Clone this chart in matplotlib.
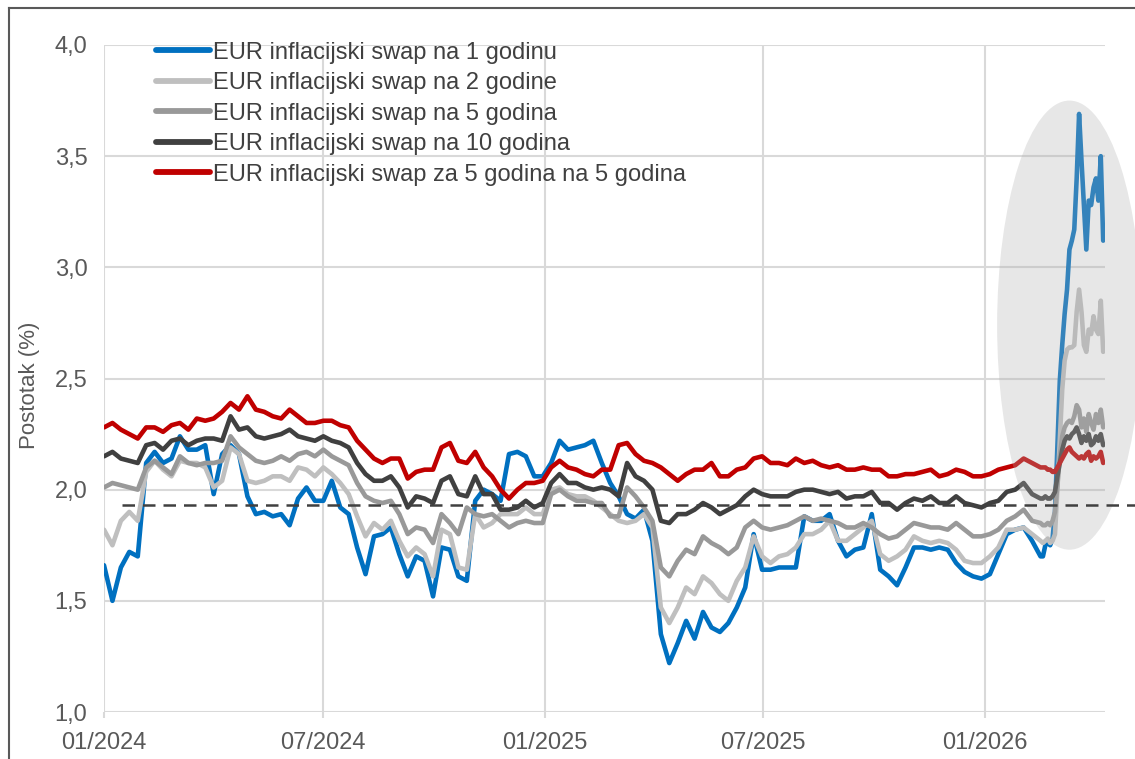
import pandas as pd
import matplotlib
matplotlib.use('Agg')
import matplotlib.pyplot as plt
import matplotlib.dates as mdates
from matplotlib.patches import Ellipse
from matplotlib.lines import Line2D
from matplotlib.ticker import MultipleLocator, FuncFormatter

plt.rcParams['font.family'] = ['Liberation Sans', 'DejaVu Sans']

# weekly observations from Jan 2024 to mid Feb 2026, then every other day
weeks = pd.date_range('2024-01-01', periods=112, freq='7D')
tail_days = pd.date_range('2026-02-18', periods=26, freq='2D')

swap_1y = [1.66, 1.50, 1.65, 1.72, 1.70, 2.12, 2.17, 2.12, 2.14, 2.24, 2.18, 2.18,
           2.20, 1.98, 2.16, 2.20, 2.16, 1.97, 1.89, 1.90, 1.88, 1.89, 1.84, 1.96,
           2.01, 1.95, 1.95, 2.04, 1.92, 1.89, 1.74, 1.62, 1.79, 1.80, 1.83, 1.71,
           1.61, 1.70, 1.68, 1.52, 1.74, 1.73, 1.61, 1.59, 1.95, 2.00, 1.98, 1.95,
           2.16, 2.17, 2.15, 2.06, 2.06, 2.12, 2.22, 2.18, 2.19, 2.20, 2.22, 2.12,
           2.03, 1.97, 1.89, 1.87, 1.91, 1.77, 1.35, 1.22, 1.31, 1.41, 1.33,
           1.45, 1.38, 1.36, 1.40, 1.47, 1.56, 1.80, 1.64, 1.64, 1.65, 1.65, 1.65,
           1.88, 1.86, 1.86, 1.89, 1.77, 1.70, 1.73, 1.74, 1.89, 1.64, 1.61, 1.57,
           1.65, 1.74, 1.74, 1.73, 1.74, 1.73, 1.67, 1.63, 1.61, 1.60, 1.62, 1.71,
           1.80, 1.82, 1.83, 1.77, 1.70]
swap_1y_tail = [1.70, 1.75, 1.76, 1.75, 1.78, 1.90, 2.20, 2.49, 2.65, 2.79, 2.90, 3.08,
                3.12, 3.17, 3.40, 3.69, 3.48, 3.28, 3.08, 3.30, 3.28, 3.36, 3.40, 3.30,
                3.50, 3.12]

swap_2y = [1.82, 1.75, 1.86, 1.90, 1.86, 2.08, 2.13, 2.09, 2.06, 2.13, 2.12, 2.12,
           2.10, 2.01, 2.04, 2.19, 2.16, 2.04, 2.03, 2.04, 2.06, 2.06, 2.04, 2.10,
           2.09, 2.06, 2.10, 2.07, 2.03, 1.98, 1.88, 1.79, 1.85, 1.82, 1.86, 1.77,
           1.70, 1.74, 1.71, 1.61, 1.82, 1.80, 1.65, 1.64, 1.89, 1.83, 1.85, 1.89,
           1.89, 1.89, 1.92, 1.89, 1.89, 2.00, 2.01, 1.98, 1.97, 1.97, 1.95, 1.92,
           1.89, 1.86, 1.85, 1.86, 1.89, 1.83, 1.47, 1.40, 1.47, 1.56, 1.53,
           1.61, 1.58, 1.53, 1.50, 1.59, 1.65, 1.79, 1.70, 1.67, 1.70, 1.71, 1.74,
           1.80, 1.80, 1.82, 1.86, 1.77, 1.77, 1.80, 1.83, 1.86, 1.71, 1.68, 1.70,
           1.73, 1.79, 1.77, 1.76, 1.77, 1.76, 1.73, 1.68, 1.67, 1.67, 1.70, 1.74,
           1.82, 1.82, 1.83, 1.80, 1.77]
swap_2y_tail = [1.76, 1.77, 1.78, 1.76, 1.77, 1.80, 2.00, 2.22, 2.45, 2.58, 2.63, 2.64,
                2.64, 2.65, 2.80, 2.90, 2.80, 2.65, 2.62, 2.72, 2.70, 2.78, 2.72, 2.70,
                2.85, 2.62]

swap_5y = [2.01, 2.03, 2.02, 2.01, 2.00, 2.10, 2.13, 2.10, 2.07, 2.15, 2.12, 2.11,
           2.12, 2.12, 2.13, 2.24, 2.19, 2.16, 2.13, 2.12, 2.13, 2.15, 2.13, 2.16,
           2.17, 2.15, 2.18, 2.15, 2.13, 2.11, 2.03, 1.97, 1.95, 1.94, 1.95, 1.89,
           1.80, 1.83, 1.82, 1.76, 1.89, 1.85, 1.80, 1.92, 1.89, 1.88, 1.89, 1.86,
           1.83, 1.85, 1.86, 1.85, 1.85, 1.98, 2.00, 1.97, 1.95, 1.95, 1.94, 1.94,
           1.88, 1.88, 2.01, 1.97, 1.92, 1.86, 1.65, 1.61, 1.68, 1.73, 1.71,
           1.79, 1.76, 1.74, 1.71, 1.74, 1.83, 1.86, 1.83, 1.82, 1.83, 1.84, 1.86,
           1.88, 1.86, 1.87, 1.86, 1.85, 1.83, 1.83, 1.85, 1.83, 1.80, 1.78, 1.79,
           1.82, 1.85, 1.84, 1.83, 1.83, 1.82, 1.85, 1.82, 1.79, 1.79, 1.80, 1.82,
           1.86, 1.88, 1.91, 1.86, 1.85]
swap_5y_tail = [1.84, 1.84, 1.85, 1.84, 1.86, 1.90, 2.02, 2.15, 2.24, 2.28, 2.30, 2.31,
                2.30, 2.33, 2.38, 2.36, 2.28, 2.32, 2.26, 2.34, 2.30, 2.27, 2.34, 2.30,
                2.36, 2.28]

swap_10y = [2.15, 2.17, 2.14, 2.13, 2.12, 2.20, 2.21, 2.18, 2.22, 2.23, 2.20, 2.22,
            2.23, 2.23, 2.22, 2.33, 2.27, 2.28, 2.24, 2.23, 2.24, 2.25, 2.27, 2.24,
            2.23, 2.22, 2.24, 2.22, 2.21, 2.19, 2.12, 2.07, 2.04, 2.04, 2.06, 2.01,
            1.92, 1.97, 1.96, 1.94, 2.04, 2.06, 1.98, 1.97, 2.06, 1.98, 1.98, 1.91,
            1.91, 1.92, 1.95, 1.92, 1.94, 2.03, 2.07, 2.03, 2.03, 2.01, 2.00, 2.01,
            2.00, 1.97, 2.12, 2.06, 2.04, 2.00, 1.86, 1.85, 1.89, 1.89, 1.91,
            1.94, 1.92, 1.89, 1.91, 1.93, 1.97, 2.00, 1.98, 1.97, 1.97, 1.97, 1.99,
            2.00, 2.00, 1.99, 1.98, 1.99, 1.96, 1.97, 1.97, 1.99, 1.94, 1.94, 1.91,
            1.94, 1.96, 1.95, 1.97, 1.94, 1.94, 1.97, 1.94, 1.93, 1.92, 1.94, 1.95,
            1.99, 2.00, 2.03, 1.98, 1.96]
swap_10y_tail = [1.96, 1.97, 1.96, 1.96, 1.97, 1.99, 2.06, 2.12, 2.18, 2.22, 2.24, 2.23,
                 2.25, 2.26, 2.28, 2.25, 2.21, 2.24, 2.22, 2.25, 2.20, 2.21, 2.24, 2.22,
                 2.25, 2.20]

swap_5y5y = [2.28, 2.30, 2.27, 2.25, 2.23, 2.28, 2.28, 2.26, 2.29, 2.30, 2.27, 2.32,
             2.31, 2.32, 2.35, 2.39, 2.36, 2.42, 2.36, 2.35, 2.33, 2.32, 2.36, 2.33,
             2.30, 2.30, 2.31, 2.31, 2.29, 2.28, 2.22, 2.18, 2.14, 2.12, 2.14, 2.14,
             2.05, 2.08, 2.09, 2.09, 2.19, 2.21, 2.13, 2.12, 2.17, 2.10, 2.06, 2.00,
             1.96, 2.00, 2.03, 2.03, 2.04, 2.10, 2.13, 2.10, 2.09, 2.07, 2.06, 2.09,
             2.09, 2.20, 2.21, 2.16, 2.13, 2.12, 2.10, 2.07, 2.04, 2.07, 2.09,
             2.09, 2.12, 2.06, 2.06, 2.09, 2.10, 2.14, 2.15, 2.12, 2.12, 2.11, 2.14,
             2.12, 2.13, 2.11, 2.10, 2.11, 2.09, 2.09, 2.10, 2.09, 2.09, 2.06, 2.06,
             2.07, 2.07, 2.08, 2.09, 2.06, 2.07, 2.09, 2.08, 2.06, 2.06, 2.07, 2.09,
             2.10, 2.11, 2.14, 2.12, 2.10]
swap_5y5y_tail = [2.10, 2.10, 2.09, 2.09, 2.08, 2.08, 2.10, 2.12, 2.14, 2.16, 2.18, 2.19,
                  2.17, 2.16, 2.15, 2.14, 2.15, 2.14, 2.16, 2.17, 2.13, 2.15, 2.14, 2.15,
                  2.17, 2.12]

labels = ['EUR inflacijski swap na 1 godinu',
          'EUR inflacijski swap na 2 godine',
          'EUR inflacijski swap na 5 godina',
          'EUR inflacijski swap na 10 godina',
          'EUR inflacijski swap za 5 godina na 5 godina']
colors = ['#0070c0', '#bfbfbf', '#999999', '#404040', '#c00000']

reference_level = 1.93

# shaded ellipse around the latest surge
highlight_center = (pd.Timestamp('2026-03-12'), 2.74)
highlight_width_days = 120
highlight_height = 2.02

dates = weeks.append(tail_days)
series = [(swap_1y, swap_1y_tail), (swap_2y, swap_2y_tail), (swap_5y, swap_5y_tail),
          (swap_10y, swap_10y_tail), (swap_5y5y, swap_5y5y_tail)]

fig = plt.figure(figsize=(11.35, 7.59), dpi=100)
ax = fig.add_axes([104 / 1135, 47 / 759, 1001 / 1135, 667 / 759])

for (weekly, tail), lab, col in zip(series, labels, colors):
    ax.plot(dates, weekly + tail, color=col, lw=3.3, label=lab,
            solid_joinstyle='round', solid_capstyle='round', zorder=3)

ax.axhline(reference_level, xmin=0.018, xmax=1.03, color='#404040', lw=1.8,
           ls=(0, (5, 3.2)), clip_on=False, zorder=5)

ell = Ellipse((mdates.date2num(highlight_center[0]), highlight_center[1]),
              width=highlight_width_days, height=highlight_height,
              facecolor='#b0b0b0', edgecolor='none', alpha=0.3,
              clip_on=False, zorder=4)
ax.add_patch(ell)

ax.set_xlim(pd.Timestamp('2024-01-01'), pd.Timestamp('2026-04-10 12:00'))
ax.set_ylim(1.0, 4.0)
ax.yaxis.set_major_locator(MultipleLocator(0.5))
ax.yaxis.set_major_formatter(FuncFormatter(lambda v, p: f'{v:.1f}'.replace('.', ',')))
ax.xaxis.set_major_locator(mdates.MonthLocator(bymonth=[1, 7]))
ax.xaxis.set_major_formatter(mdates.DateFormatter('%m/%Y'))

ax.grid(True, color='#d9d9d9', lw=1.5)
ax.set_axisbelow(True)
for s in ax.spines.values():
    s.set_visible(False)
ax.tick_params(axis='y', length=0, pad=12, labelsize=17, labelcolor='#595959')
ax.tick_params(axis='x', length=4.5, width=1.5, color='#d9d9d9', pad=10,
               labelsize=17, labelcolor='#595959')

ax.set_ylabel('Postotak (%)', fontsize=16, color='#595959')
ax.yaxis.set_label_coords(-0.064, 0.49)

leg = ax.legend(loc='upper left', bbox_to_anchor=(0.052, 1.005), frameon=False,
                fontsize=17, handlelength=2.3, handletextpad=0.12,
                labelspacing=0.36, borderpad=0, borderaxespad=0)
leg.set_zorder(6)
for line in leg.get_lines():
    line.set_linewidth(4.2)
for t in leg.get_texts():
    t.set_color('#404040')

# outer frame
fig.add_artist(Line2D([9 / 1135, 9 / 1135], [0, 1 - 8 / 759], transform=fig.transFigure,
                      color='#595959', lw=1.5))
fig.add_artist(Line2D([9 / 1135, 1], [1 - 8 / 759, 1 - 8 / 759], transform=fig.transFigure,
                      color='#595959', lw=1.5))

fig.savefig('out.png', dpi=100)
